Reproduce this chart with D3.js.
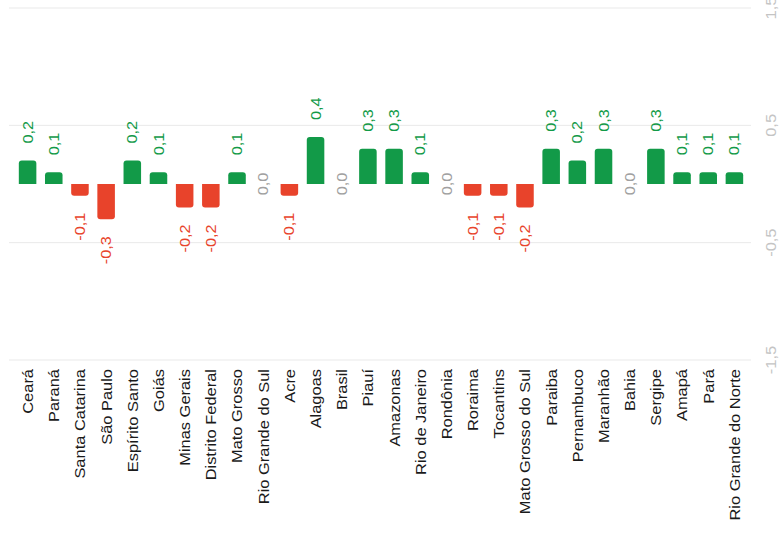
<!DOCTYPE html>
<html><head><meta charset="utf-8">
<script src="https://cdn.jsdelivr.net/npm/d3@7"></script>
<style>html,body{margin:0;padding:0;background:#fff;}svg{display:block;font-family:"Liberation Sans",Arial,sans-serif;}</style>
</head><body>
<svg id="c" width="779" height="542"></svg>
<script>
const categories = ["Ceará","Paraná","Santa Catarina","São Paulo","Espírito Santo","Goiás","Minas Gerais","Distrito Federal","Mato Grosso","Rio Grande do Sul","Acre","Alagoas","Brasil","Piauí","Amazonas","Rio de Janeiro","Rondônia","Roraima","Tocantins","Mato Grosso do Sul","Paraiba","Pernambuco","Maranhão","Bahia","Sergipe","Amapá","Pará","Rio Grande do Norte"];
const values = [0.2,0.1,-0.1,-0.3,0.2,0.1,-0.2,-0.2,0.1,0.0,-0.1,0.4,0.0,0.3,0.3,0.1,0.0,-0.1,-0.1,-0.2,0.3,0.2,0.3,0.0,0.3,0.1,0.1,0.1];
const tickValues = [1.5,0.5,-0.5,-1.5];

const svg = d3.select("#c");
const x = d3.scaleBand().domain(categories).range([14.5,747.5]).paddingInner(0.33).paddingOuter(0.165);
const y = d3.scaleLinear().domain([-1.5,1.5]).range([360,8]);
const fmt = v => d3.format(".1f")(v).replace(".",",").replace("−","-");
const GREEN="#129a48", RED="#e8432b", GREY="#a0a0a0";

// gridlines
svg.append("g").selectAll("line").data(tickValues).join("line")
  .attr("x1",9).attr("x2",751).attr("y1",d=>y(d)).attr("y2",d=>y(d))
  .attr("stroke","#e9e9e9").attr("stroke-width",1);

// tick labels (right side, rotated)
svg.append("g").selectAll("text").data(tickValues).join("text")
  .attr("transform",d=>`translate(771,${y(d)}) rotate(-90) scale(1.1,1)`)
  .attr("text-anchor","middle").attr("dy","0.35em")
  .attr("font-size",15).attr("fill","#c4c4c4")
  .text(d=>fmt(d));

// bars with rounded value end
const r = 3;
function barPath(d,i){
  const v = values[i];
  const x0 = x(d), w = x.bandwidth(), y0 = y(0), y1 = y(v);
  if (v === 0) return "";
  const h = Math.abs(y1-y0), rr = Math.min(r,h/2);
  if (v > 0) {
    return `M${x0},${y0}V${y1+rr}Q${x0},${y1} ${x0+rr},${y1}H${x0+w-rr}Q${x0+w},${y1} ${x0+w},${y1+rr}V${y0}Z`;
  } else {
    return `M${x0},${y0}V${y1-rr}Q${x0},${y1} ${x0+rr},${y1}H${x0+w-rr}Q${x0+w},${y1} ${x0+w},${y1-rr}V${y0}Z`;
  }
}
svg.append("g").selectAll("path").data(categories).join("path")
  .attr("d",barPath)
  .attr("fill",(d,i)=>values[i]>0?GREEN:RED);

// value labels
svg.append("g").selectAll("text").data(categories).join("text")
  .attr("transform",(d,i)=>{
    const v=values[i], cx=x(d)+x.bandwidth()/2;
    let yy = v>0 ? y(v)-17 : v<0 ? y(v)+17 : y(0);
    return `translate(${cx},${yy}) rotate(-90) scale(1.12,1)`;
  })
  .attr("text-anchor",(d,i)=>values[i]>0?"start":values[i]<0?"end":"middle")
  .attr("dy","0.35em").attr("font-size",14.5)
  .attr("fill",(d,i)=>values[i]>0?GREEN:values[i]<0?RED:GREY)
  .text((d,i)=>fmt(values[i]));

// category labels
svg.append("g").selectAll("text").data(categories).join("text")
  .attr("transform",d=>`translate(${x(d)+x.bandwidth()/2},369) rotate(-90) scale(1.06,1)`)
  .attr("text-anchor","end").attr("dy","0.35em")
  .attr("font-size",15.5).attr("fill","#1a1a1a")
  .text(d=>d);
</script>
</body></html>
